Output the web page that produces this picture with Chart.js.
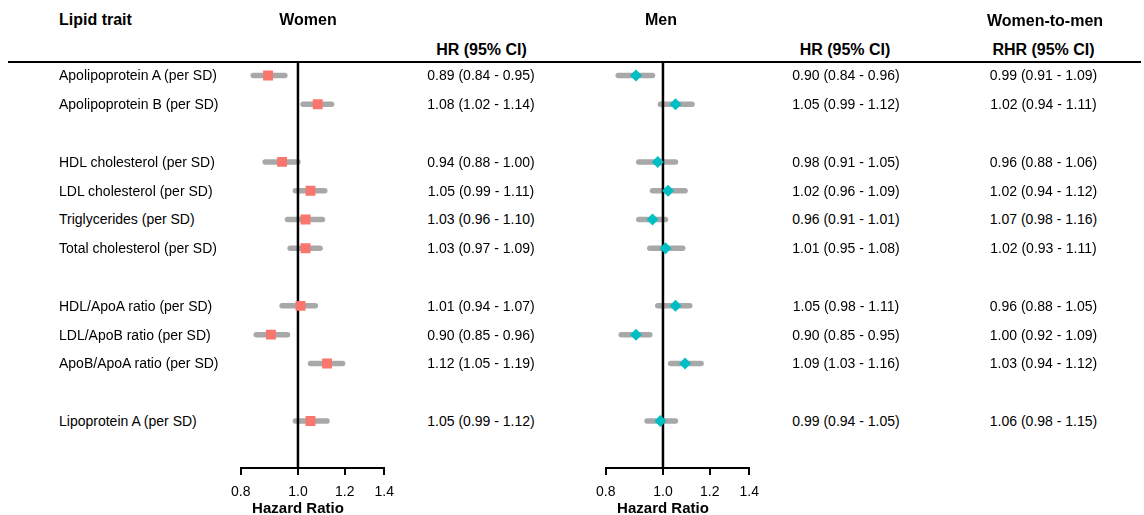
<!DOCTYPE html>
<html><head><meta charset="utf-8">
<script src="https://cdn.jsdelivr.net/npm/chart.js@4/dist/chart.umd.min.js"></script>
<style>
html,body{margin:0;padding:0;background:#fff;overflow:hidden;}
#wrap{position:relative;width:1144px;height:515px;font-family:"Liberation Sans",Arial,sans-serif;color:#000;}
.t{position:absolute;white-space:nowrap;line-height:1;font-size:14px;transform:translateY(-50%);}
.c{transform:translate(-50%,-50%);}
.b{font-weight:bold;font-size:16px;}
canvas{position:absolute;top:0;}
#hline{position:absolute;left:8px;width:1133px;top:61px;height:2px;background:#000;}
</style></head><body>
<div id="wrap">
<div id="hline"></div>
<canvas id="cw" width="220" height="515" style="left:200px;width:220px;height:515px"></canvas>
<canvas id="cm" width="220" height="515" style="left:565px;width:220px;height:515px"></canvas>
</div>
<script>
// ---- data ----
const traits = ['Apolipoprotein A (per SD)','Apolipoprotein B (per SD)',null,
  'HDL cholesterol (per SD)','LDL cholesterol (per SD)','Triglycerides (per SD)','Total cholesterol (per SD)',null,
  'HDL/ApoA ratio (per SD)','LDL/ApoB ratio (per SD)','ApoB/ApoA ratio (per SD)',null,
  'Lipoprotein A (per SD)'];
const womenHR = [0.89,1.08,null,0.94,1.05,1.03,1.03,null,1.01,0.90,1.12,null,1.05];
const womenLo = [0.84,1.02,null,0.88,0.99,0.96,0.97,null,0.94,0.85,1.05,null,0.99];
const womenHi = [0.95,1.14,null,1.00,1.11,1.10,1.09,null,1.07,0.96,1.19,null,1.12];
const menHR   = [0.90,1.05,null,0.98,1.02,0.96,1.01,null,1.05,0.90,1.09,null,0.99];
const menLo   = [0.84,0.99,null,0.91,0.96,0.91,0.95,null,0.98,0.85,1.03,null,0.94];
const menHi   = [0.96,1.12,null,1.05,1.09,1.01,1.08,null,1.11,0.95,1.16,null,1.05];
const rhr     = [0.99,1.02,null,0.96,1.02,1.07,1.02,null,0.96,1.00,1.03,null,1.06];
const rhrLo   = [0.91,0.94,null,0.88,0.94,0.98,0.93,null,0.88,0.92,0.94,null,0.98];
const rhrHi   = [1.09,1.11,null,1.06,1.12,1.16,1.11,null,1.05,1.09,1.12,null,1.15];
const xTicks  = [0.8,1.0,1.2,1.4];
const REF = 1.0;

// ---- styles ----
const FONT = '"Liberation Sans", Arial, sans-serif';
Chart.defaults.font.family = FONT;
Chart.defaults.color = '#000';
const CI_COLOR = '#A8A8A8';
const Y_MIN = -0.434, Y_MAX = 13.63;

const refLine = {
  id:'refLine',
  afterDatasetDraw(chart, args){
    if (args.index !== 1) return;
    const ctx = chart.ctx, x = chart.scales.x.getPixelForValue(REF);
    const {top, bottom} = chart.chartArea;
    ctx.save(); ctx.strokeStyle = '#000'; ctx.lineWidth = 2.5;
    ctx.beginPath(); ctx.moveTo(x, top); ctx.lineTo(x, bottom); ctx.stroke(); ctx.restore();
  }
};

function makeChart(id, hr, lo, hi, color, style, radius){
  const markers = [];
  const ciSets = [];
  hr.forEach((v,i)=>{
    if (v == null) return;
    markers.push({x:v, y:i});
    ciSets.push({data:[{x:lo[i],y:i},{x:hi[i],y:i}], borderColor:CI_COLOR, borderWidth:5.5,
      borderCapStyle:'round', pointRadius:0, pointHoverRadius:0, showLine:true});
  });
  const datasets = [{data:markers, showLine:false, pointStyle:style, pointRadius:radius,
      pointHoverRadius:radius, backgroundColor:color, borderColor:color, borderWidth:0}].concat(ciSets);
  return new Chart(document.getElementById(id), {
    type:'line',
    data:{datasets},
    options:{
      responsive:false, animation:false, events:[],
      layout:{padding:{left:40.7, right:35.7, top:63, bottom:0}},
      plugins:{legend:{display:false}, tooltip:{enabled:false}},
      scales:{
        x:{type:'logarithmic', min:0.8, max:1.4,
          afterBuildTicks:s=>{ s.ticks = xTicks.map(v=>({value:v})); },
          afterFit:s=>{ s.height = 47; },
          ticks:{callback:v=>Number(v).toFixed(1), font:{size:14}, color:'#000', padding:8.5, autoSkip:false, maxRotation:0, minRotation:0},
          grid:{drawOnChartArea:false, drawTicks:true, tickLength:7, color:'#000', lineWidth:2},
          border:{display:true, color:'#000', width:2}
        },
        y:{type:'linear', display:false, min:Y_MIN, max:Y_MAX, reverse:true}
      }
    },
    plugins:[refLine]
  });
}

const cw = makeChart('cw', womenHR, womenLo, womenHi, '#F8766D', 'rect', 7);
const cm = makeChart('cm', menHR, menLo, menHi, '#00BFC4', 'rectRot', 6);

// ---- text ----
const wrap = document.getElementById('wrap');
function txt(s, x, y, cls){
  const d = document.createElement('div');
  d.className = 't ' + (cls||'');
  d.textContent = s;
  d.style.left = x + 'px'; d.style.top = y + 'px';
  wrap.appendChild(d);
}
const fmt = (v,l,h)=> v.toFixed(2)+' ('+l.toFixed(2)+' - '+h.toFixed(2)+')';

txt('Lipid trait', 59, 20, 'b');
txt('Women', 308, 20, 'b c');
txt('Men', 661, 20, 'b c');
txt('Women-to-men', 1045, 20.5, 'b c');
txt('HR (95% CI)', 481.5, 49.5, 'b c');
txt('HR (95% CI)', 845, 49.5, 'b c');
txt('RHR (95% CI)', 1043.5, 49.5, 'b c');

const ys = cw.scales.y;
traits.forEach((t,i)=>{
  if (t == null) return;
  const y = ys.getPixelForValue(i);
  txt(t, 59, y, '');
  txt(fmt(womenHR[i],womenLo[i],womenHi[i]), 481, y, 'c');
  txt(fmt(menHR[i],menLo[i],menHi[i]), 846, y, 'c');
  txt(fmt(rhr[i],rhrLo[i],rhrHi[i]), 1043.5, y, 'c');
});
[[cw,200],[cm,565]].forEach(([ch,left])=>{
  const d = document.createElement('div');
  d.className = 't c';
  d.style.fontWeight = 'bold'; d.style.fontSize = '15px';
  d.textContent = 'Hazard Ratio';
  d.style.left = (left + ch.scales.x.getPixelForValue(REF)) + 'px';
  d.style.top = '507px';
  wrap.appendChild(d);
});
</script>
</body></html>
